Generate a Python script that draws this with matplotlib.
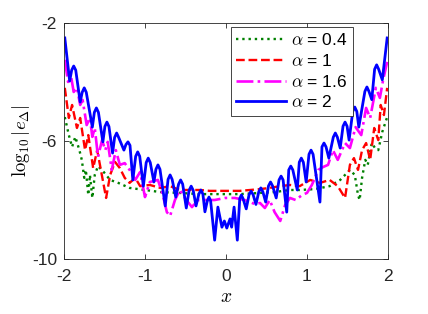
import numpy as np
import matplotlib.pyplot as plt

plt.rcParams['font.family'] = ['Liberation Sans', 'DejaVu Sans']
plt.rcParams['mathtext.fontset'] = 'cm'
plt.rcParams['axes.unicode_minus'] = False

# alpha = 0.4 (dotted green)
x_a04 = [-1.99, -1.94, -1.90, -1.86, -1.81, -1.78, -1.75, -1.73, -1.70, -1.68, -1.65, -1.62,
         -1.58, -1.51, -1.43, -1.33, -1.19, -1.00, -0.81, -0.57, -0.32, -0.07, 0.17, 0.42,
         0.60, 0.79, 0.91, 1.10, 1.28, 1.41, 1.53, 1.59, 1.63, 1.65, 1.68, 1.72, 1.75, 1.80,
         1.84, 1.88, 1.93, 1.99]
y_a04 = [-5.19, -5.80, -6.20, -5.86, -6.31, -6.64, -7.25, -6.98, -7.83, -7.15, -7.93, -7.15,
         -6.85, -7.05, -7.32, -7.42, -7.59, -7.66, -7.73, -7.76, -7.80, -7.80, -7.80, -7.76,
         -7.73, -7.66, -7.66, -7.63, -7.53, -7.32, -6.98, -7.15, -7.83, -8.00, -7.25, -6.64,
         -6.81, -6.07, -6.24, -6.31, -5.69, -5.19]

# alpha = 1 (dashed red)
x_a1 = [-1.99, -1.94, -1.90, -1.84, -1.80, -1.74, -1.70, -1.64, -1.59, -1.48, -1.43, -1.37,
        -1.31, -1.25, -1.19, -1.12, -1.06, -0.94, -0.81, -0.69, -0.57, -0.44, -0.32, -0.20,
        -0.07, 0.05, 0.17, 0.30, 0.42, 0.54, 0.67, 0.79, 0.91, 1.04, 1.16, 1.28, 1.38, 1.47,
        1.53, 1.58, 1.63, 1.68, 1.73, 1.78, 1.83, 1.88, 1.91, 1.95, 1.99]
y_a1 = [-4.20, -5.22, -4.78, -5.56, -5.22, -6.31, -5.80, -6.92, -6.31, -7.93, -7.15, -6.71,
        -6.92, -7.25, -7.42, -7.25, -7.53, -7.49, -7.59, -7.53, -7.66, -7.66, -7.66, -7.69,
        -7.69, -7.69, -7.69, -7.66, -7.63, -7.59, -7.53, -7.49, -7.53, -7.32, -7.42, -7.32,
        -7.53, -7.93, -6.81, -6.58, -6.98, -6.31, -6.07, -6.64, -5.56, -5.97, -4.78, -5.12,
        -4.20]

# alpha = 1.6 (dash-dot magenta)
x_a16 = [-1.99, -1.95, -1.91, -1.88, -1.84, -1.80, -1.77, -1.72, -1.68, -1.65, -1.62, -1.58,
         -1.53, -1.49, -1.46, -1.41, -1.36, -1.31, -1.25, -1.19, -1.12, -1.06, -1.00, -0.94,
         -0.84, -0.78, -0.73, -0.69, -0.63, -0.57, -0.49, -0.42, -0.35, -0.26, -0.14, -0.01,
         0.11, 0.23, 0.36, 0.42, 0.48, 0.54, 0.60, 0.67, 0.73, 0.79, 0.86, 0.94, 1.00, 1.06,
         1.14, 1.20, 1.26, 1.32, 1.38, 1.47, 1.53, 1.60, 1.67, 1.73, 1.78, 1.85, 1.90, 1.94,
         1.99]
y_a16 = [-3.25, -4.00, -3.86, -4.34, -4.20, -4.78, -4.61, -5.46, -5.22, -5.86, -5.56, -6.54,
         -5.97, -6.31, -6.03, -6.98, -6.31, -6.81, -6.75, -6.98, -7.32, -7.05, -7.90, -7.39,
         -7.32, -7.83, -8.41, -8.54, -8.00, -7.66, -8.00, -8.24, -8.00, -8.00, -8.00, -7.93,
         -7.93, -8.00, -8.14, -8.10, -8.27, -8.00, -8.41, -8.71, -8.17, -7.93, -8.00, -7.83,
         -7.76, -7.49, -6.98, -6.88, -6.81, -6.31, -6.64, -6.07, -6.24, -5.53, -5.80, -4.88,
         -5.22, -4.20, -4.54, -3.93, -3.32]

# alpha = 2 (solid blue), troughs, peaks and the shoulders of each arch
x_a2 = [-1.99, -1.93, -1.905, -1.88, -1.855, -1.80, -1.775, -1.75, -1.725, -1.65, -1.625, -1.60,
        -1.575, -1.52, -1.495, -1.47, -1.445, -1.40, -1.375, -1.35, -1.325, -1.26, -1.235,
        -1.21, -1.185, -1.15, -1.115, -1.09, -1.065, -1.02, -0.985, -0.96, -0.935, -0.89,
        -0.865, -0.84, -0.815, -0.75, -0.715, -0.69, -0.665, -0.62, -0.585, -0.56, -0.535,
        -0.49, -0.455, -0.43, -0.405, -0.37, -0.335, -0.31, -0.285, -0.26, -0.23, -0.21,
        -0.19, -0.14, -0.10, -0.05, -0.02, 0.01, 0.05, 0.07, 0.10, 0.14, 0.17, 0.19, 0.21,
        0.25, 0.285, 0.31, 0.335, 0.37, 0.405, 0.43, 0.455, 0.49, 0.525, 0.55, 0.575, 0.62,
        0.655, 0.68, 0.705, 0.75, 0.775, 0.80, 0.825, 0.88, 0.905, 0.93, 0.955, 0.99, 1.025,
        1.05, 1.075, 1.16, 1.185, 1.21, 1.235, 1.27, 1.325, 1.35, 1.375, 1.41, 1.445, 1.47,
        1.495, 1.52, 1.565, 1.59, 1.615, 1.64, 1.715, 1.74, 1.765, 1.80, 1.835, 1.86, 1.885,
        1.93, 1.99]
y_a2 = [-2.51, -3.97, -3.60, -3.46, -3.60, -4.68, -4.35, -4.20, -4.35, -5.53, -5.03, -4.88,
        -5.03, -6.03, -5.51, -5.36, -5.51, -6.41, -5.88, -5.73, -5.88, -6.31, -6.12,
        -6.03, -6.15, -7.32, -6.52, -6.37, -6.52, -7.53, -6.73, -6.58, -6.73, -7.39,
        -6.96, -6.81, -6.96, -8.20, -7.30, -7.15, -7.30, -7.90, -7.46, -7.32, -7.46,
        -8.27, -7.67, -7.53, -7.67, -8.20, -7.80, -7.66, -7.80, -8.40, -8.02, -7.90,
        -8.02, -9.36, -8.24, -8.92, -8.71, -8.95, -8.64, -8.92, -8.24, -9.36, -7.95, -7.83, -7.95,
        -8.30, -7.82, -7.70, -7.82, -8.15, -7.72, -7.59, -7.72, -8.07, -7.52, -7.39, -7.52, -7.93,
        -7.32, -7.19, -7.32, -8.41, -6.98, -6.85, -6.98, -7.66, -6.72, -6.58, -6.72, -7.39, -6.45,
        -6.31, -6.45, -8.07, -6.20, -6.07, -6.20, -6.58, -5.87, -5.73, -5.87, -6.24, -5.50, -5.36,
        -5.50, -5.97, -5.00, -4.85, -5.00, -5.53, -4.32, -4.17, -4.32, -4.60, -3.57, -3.42, -3.57,
        -3.93, -2.51]

fig = plt.figure(figsize=(4.28, 3.14), dpi=100)
ax = fig.add_axes([0.1495, 0.175, 0.757, 0.752])

ax.plot(x_a04, y_a04, ':', color='#008000', lw=1.7, label=r'$\alpha$ = 0.4')
ax.plot(x_a1, y_a1, '--', color='#ff0000', lw=1.7, label=r'$\alpha$ = 1')
ax.plot(x_a16, y_a16, '-.', color='#ff00ff', lw=1.9, label=r'$\alpha$ = 1.6')
ax.plot(x_a2, y_a2, '-', color='#0000ff', lw=2.0, label=r'$\alpha$ = 2')

ax.set_xlim(-2, 2)
ax.set_ylim(-10, -2)
ax.set_xticks([-2, -1, 0, 1, 2])
ax.set_yticks([-10, -6, -2])
ax.tick_params(direction='in', top=True, right=True, length=3.5, width=0.6,
               labelsize=12.5, colors='#262626')
ax.tick_params(axis='x', pad=7)
ax.tick_params(axis='y', pad=5)
for s in ax.spines.values():
    s.set_linewidth(0.6)
    s.set_color('#262626')

ax.set_xlabel(r'$x$', fontsize=14, labelpad=4)
ax.set_ylabel(r'$\log_{10}|e_\Delta|$', fontsize=13.5, labelpad=0)

leg = ax.legend(loc='upper right', bbox_to_anchor=(0.892, 0.984), borderaxespad=0,
                handlelength=2.9, fontsize=12.5, fancybox=False, framealpha=1,
                edgecolor='#262626', labelspacing=0.28, handletextpad=0.3,
                borderpad=0.3)
leg.get_frame().set_linewidth(0.6)

plt.savefig('out.png', dpi=100)
